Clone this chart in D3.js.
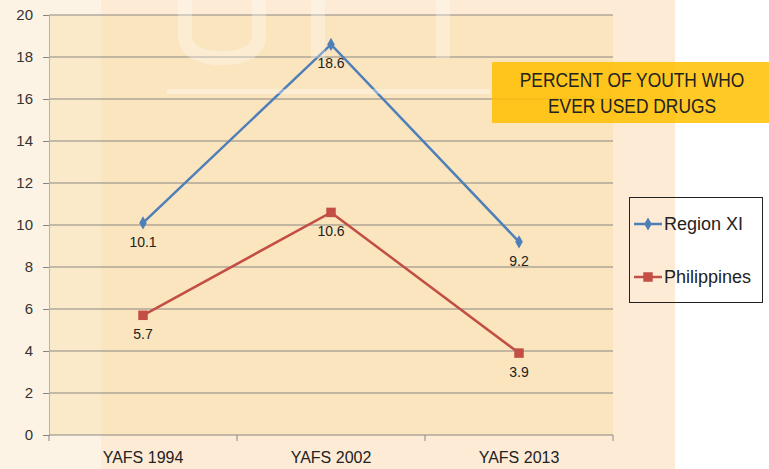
<!DOCTYPE html>
<html>
<head>
<meta charset="utf-8">
<script src="https://d3js.org/d3.v7.min.js"></script>
<style>
  body { margin: 0; background: #fff; }
  svg { display: block; }
</style>
</head>
<body>
<div id="chart"></div>
<script>

// data
var surveys = ["YAFS 1994", "YAFS 2002", "YAFS 2013"];
var regionXI = [10.1, 18.6, 9.2];
var philippines = [5.7, 10.6, 3.9];
var yTicks = [0, 2, 4, 6, 8, 10, 12, 14, 16, 18, 20];
var seriesNames = ["Region XI", "Philippines"];
var titleLines = ["PERCENT OF YOUTH WHO", "EVER USED DRUGS"];

var width = 769, height = 469;
var margin = {top: 15, right: 156, bottom: 34, left: 49};
var plotW = width - margin.left - margin.right,
    plotH = height - margin.top - margin.bottom;

var svg = d3.select("#chart")
  .append("svg")
    .attr("width", width)
    .attr("height", height);

// faded backdrop behind the chart
svg.append("rect")
  .attr("x", 0).attr("y", 0)
  .attr("width", 675).attr("height", height)
  .style("fill", "#fdf3e5");
svg.append("rect")
  .attr("x", 101).attr("y", 0)
  .attr("width", 574).attr("height", height)
  .style("fill", "#fdebd6");

var g = svg.append("g")
  .attr("transform", "translate(" + margin.left + "," + margin.top + ")");

g.append("rect")
  .attr("width", plotW).attr("height", plotH)
  .style("fill", "#fad68c")
  .style("opacity", 0.3);

// faint watermark strokes
var wm = svg.append("g")
  .style("fill", "none")
  .style("stroke", "#fff")
  .style("stroke-width", 14)
  .style("opacity", 0.3);
wm.append("path").attr("d", "M185,-5V35Q185,58 222,58Q259,58 259,35V-5");
wm.append("path").attr("d", "M318,-5V58");
wm.append("path").attr("d", "M443,-5V58");
svg.append("rect")
  .attr("x", 167).attr("y", 89)
  .attr("width", 323).attr("height", 5)
  .style("fill", "#fff")
  .style("opacity", 0.35);

var x = d3.scaleBand()
  .domain(surveys)
  .range([0, plotW]);

var y = d3.scaleLinear()
  .domain([0, 20])
  .range([plotH, 0]);

// horizontal gridlines
g.selectAll(".grid")
  .data(yTicks.filter(function(d) { return d > 0; }))
  .enter()
  .append("line")
    .attr("x1", 0).attr("x2", plotW)
    .attr("y1", function(d) { return y(d); })
    .attr("y2", function(d) { return y(d); })
    .style("stroke", "#8a8782")
    .style("stroke-width", 1);

// y axis
var yAxis = g.append("g")
  .call(d3.axisLeft(y).tickValues(yTicks).tickSize(6).tickPadding(10));
yAxis.select(".domain").style("stroke", "#b8b2a8");
yAxis.selectAll(".tick line").style("stroke", "#8a8782");
yAxis.selectAll("text")
  .style("font-family", "Liberation Sans, Arial, sans-serif")
  .style("font-size", "15px")
  .style("fill", "#333");

// x axis, ticks between categories
var xAxis = g.append("g")
  .attr("transform", "translate(0," + plotH + ")")
  .call(d3.axisBottom(x).tickSize(0).tickPadding(17));
xAxis.select(".domain").remove();
xAxis.selectAll("text")
  .style("font-family", "Liberation Sans, Arial, sans-serif")
  .style("font-size", "16px")
  .style("fill", "#222");

g.append("line")
  .attr("x1", 0).attr("x2", plotW)
  .attr("y1", plotH).attr("y2", plotH)
  .style("stroke", "#8a8782");

var bounds = [0].concat(surveys.map(function(d) { return x(d) + x.bandwidth(); }));
g.selectAll(".xtick")
  .data(bounds)
  .enter()
  .append("line")
    .attr("x1", function(d) { return d; })
    .attr("x2", function(d) { return d; })
    .attr("y1", plotH).attr("y2", plotH + 6)
    .style("stroke", "#8a8782");

function cx(d, i) { return x(surveys[i]) + x.bandwidth() / 2; }

var series = [
  {name: seriesNames[0], values: regionXI, color: "#4f7fb8", shape: d3.symbolDiamond, size: 50},
  {name: seriesNames[1], values: philippines, color: "#c24e45", shape: d3.symbolSquare, size: 90}
];

var line = d3.line()
  .x(cx)
  .y(function(d) { return y(d); });

series.forEach(function(s) {
  g.append("path")
    .datum(s.values)
    .attr("d", line)
    .style("fill", "none")
    .style("stroke", s.color)
    .style("stroke-width", 2.5);

  g.selectAll(null)
    .data(s.values)
    .enter()
    .append("path")
      .attr("d", d3.symbol().type(s.shape).size(s.size))
      .attr("transform", function(d, i) { return "translate(" + cx(d, i) + "," + y(d) + ")"; })
      .style("fill", s.color);

  g.selectAll(null)
    .data(s.values)
    .enter()
    .append("text")
      .attr("x", cx)
      .attr("y", function(d) { return y(d) + 24; })
      .text(function(d) { return d.toFixed(1); })
      .style("text-anchor", "middle")
      .style("font-family", "Liberation Sans, Arial, sans-serif")
      .style("font-size", "14px")
      .style("fill", "#222");
});

// title box
svg.append("rect")
  .attr("x", 492).attr("y", 62)
  .attr("width", 277).attr("height", 61)
  .style("fill", "#ffc000")
  .style("opacity", 0.85);

// narrow title face: squeeze the regular face horizontally
svg.selectAll(".title")
  .data(titleLines)
  .enter()
  .append("text")
    .attr("transform", function(d, i) { return "translate(632," + (87 + i * 26) + ") scale(0.87,1)"; })
    .text(function(d) { return d; })
    .style("text-anchor", "middle")
    .style("font-family", "Liberation Sans, Arial, sans-serif")
    .style("font-size", "20px")
    .style("fill", "#222");

// legend
var legend = svg.append("g");
legend.append("rect")
  .attr("x", 629.5).attr("y", 197.5)
  .attr("width", 133).attr("height", 105)
  .style("fill", "none")
  .style("stroke", "#222");

var item = legend.selectAll(".item")
  .data(series)
  .enter()
  .append("g")
    .attr("transform", function(d, i) { return "translate(634," + (224 + i * 53) + ")"; });

item.append("line")
  .attr("x1", 0).attr("x2", 28)
  .style("stroke", function(d) { return d.color; })
  .style("stroke-width", 2.5);
item.append("path")
  .attr("d", function(d) { return d3.symbol().type(d.shape).size(d.size)(); })
  .attr("transform", "translate(14,0)")
  .style("fill", function(d) { return d.color; });
item.append("text")
  .attr("x", 30)
  .attr("y", 6)
  .text(function(d) { return d.name; })
  .style("font-family", "Liberation Sans, Arial, sans-serif")
  .style("font-size", "18px")
  .style("fill", "#222");

</script>
</body>
</html>
